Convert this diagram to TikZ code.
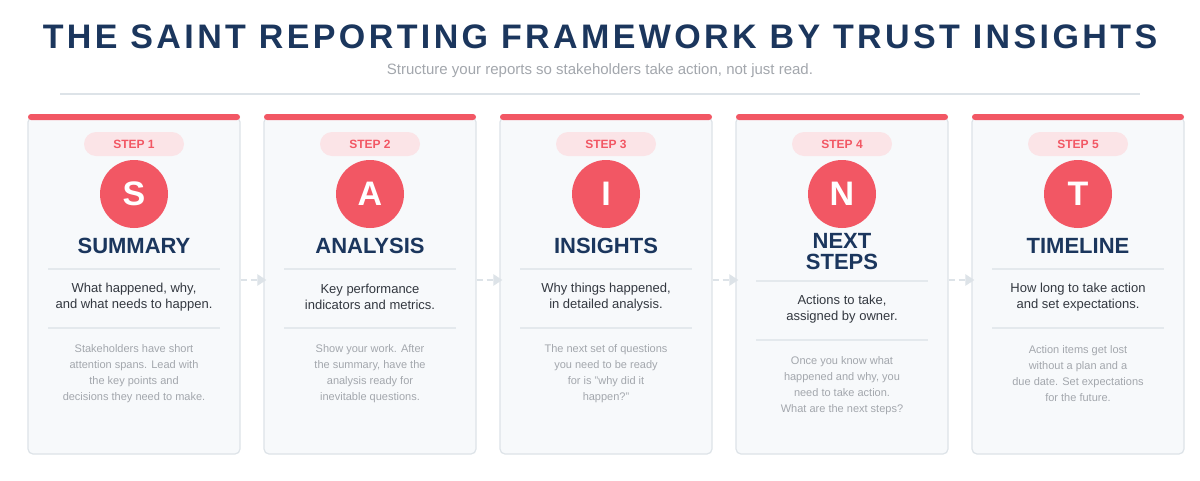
\documentclass[tikz,border=0pt]{standalone}
\usepackage{fontspec}
\setmainfont{Liberation Sans}
\usetikzlibrary{positioning, arrows.meta}
\definecolor{saintred}{HTML}{F25764}
\definecolor{saintnavy}{HTML}{1B365D}
\definecolor{pillpink}{HTML}{FBE4E7}
\definecolor{cardbg}{HTML}{F7F9FB}
\definecolor{cardline}{HTML}{DDE3E8}
\definecolor{bodygrey}{HTML}{333840}
\definecolor{notegrey}{HTML}{A3A7AD}

\tikzset{card/.style = {draw=cardline, fill=cardbg, line width=1.2pt, rounded corners=5pt, minimum width=212pt, minimum height=337pt, inner sep=0pt}, }
\tikzset{pill/.style = {fill=pillpink, rounded corners=12pt, minimum width=100pt, minimum height=24pt, text=saintred, font=\fontsize{12}{14}\selectfont\bfseries}, }
\tikzset{letter/.style = {circle, fill=saintred, minimum size=68pt, text=white, font=\fontsize{34}{36}\selectfont\bfseries}, }
\tikzset{heading/.style = {text=saintnavy, align=center, font=\fontsize{22}{21}\selectfont\bfseries}, }
\tikzset{desc/.style = {text=bodygrey, align=center, font=\fontsize{13}{16}\selectfont}, }
\tikzset{note/.style = {text=notegrey, align=center, font=\fontsize{11}{16}\selectfont}, }
\tikzset{rule/.style = {draw=cardline!80, line width=1.2pt}, }
\tikzset{arrow/.style = {draw=cardline, line width=2.5pt, dash pattern=on 6pt off 4pt, -{Triangle[length=9pt,width=11pt]}}, }

% one card of the framework: x, index, letter, title, description, note, extra drop
\newcommand{\sainttile}[7]{
\node[card] (card#2) at (#1+106, 285.5) {};
\fill[saintred, rounded corners=3pt] (#1, 114) rectangle (#1+212, 120);
\node[pill] (pill#2) at (#1+106, 144) {STEP #2};
\node[letter] (letter#2) at (#1+106, 194) {#3};
\node[heading] (head#2) at (#1+106, 246+#7/2) {#4};
\draw[rule] (#1+20, 269+#7) -- (#1+192, 269+#7);
\node[desc] (desc#2) at (#1+106, 297+#7) {#5};
\draw[rule] (#1+20, 328+#7) -- (#1+192, 328+#7);
\node[note] (note#2) at (#1+106, 374+#7) {#6};
}

\begin{document}
\begin{tikzpicture}[x=1pt, y=-1pt]
\useasboundingbox[fill=white] (0,0) rectangle (1200,480);

\node[text=saintnavy, font=\fontsize{34}{38}\selectfont\bfseries\addfontfeature{LetterSpace=10}] (title) at (600, 37) {THE SAINT REPORTING FRAMEWORK BY TRUST INSIGHTS};
\node[text=notegrey, font=\fontsize{15}{18}\selectfont] (subtitle) at (600, 71) {Structure your reports so stakeholders take action, not just read.};
\draw[draw=cardline, line width=1.5pt] (60, 94) -- (1140, 94);

\sainttile{28}{1}{S}{SUMMARY}{What happened, why,\\and what needs to happen.}{Stakeholders have short\\attention spans. Lead with\\the key points and\\decisions they need to make.}{0}
\sainttile{264}{2}{A}{ANALYSIS}{Key performance\\indicators and metrics.}{Show your work. After\\the summary, have the\\analysis ready for\\inevitable questions.}{0}
\sainttile{500}{3}{I}{INSIGHTS}{Why things happened,\\in detailed analysis.}{The next set of questions\\you need to be ready\\for is "why did it\\happen?"}{0}
\sainttile{736}{4}{N}{NEXT\\STEPS}{Actions to take,\\assigned by owner.}{Once you know what\\happened and why, you\\need to take action.\\What are the next steps?}{12}
\sainttile{972}{5}{T}{TIMELINE}{How long to take action\\and set expectations.}{Action items get lost\\without a plan and a\\due date. Set expectations\\for the future.}{0}

\foreach \i/\j in {1/2, 2/3, 3/4, 4/5}
  \draw[arrow] ([yshift=5.5pt]card\i.east) -- ([yshift=5.5pt, xshift=3pt]card\j.west);
\end{tikzpicture}
\end{document}
